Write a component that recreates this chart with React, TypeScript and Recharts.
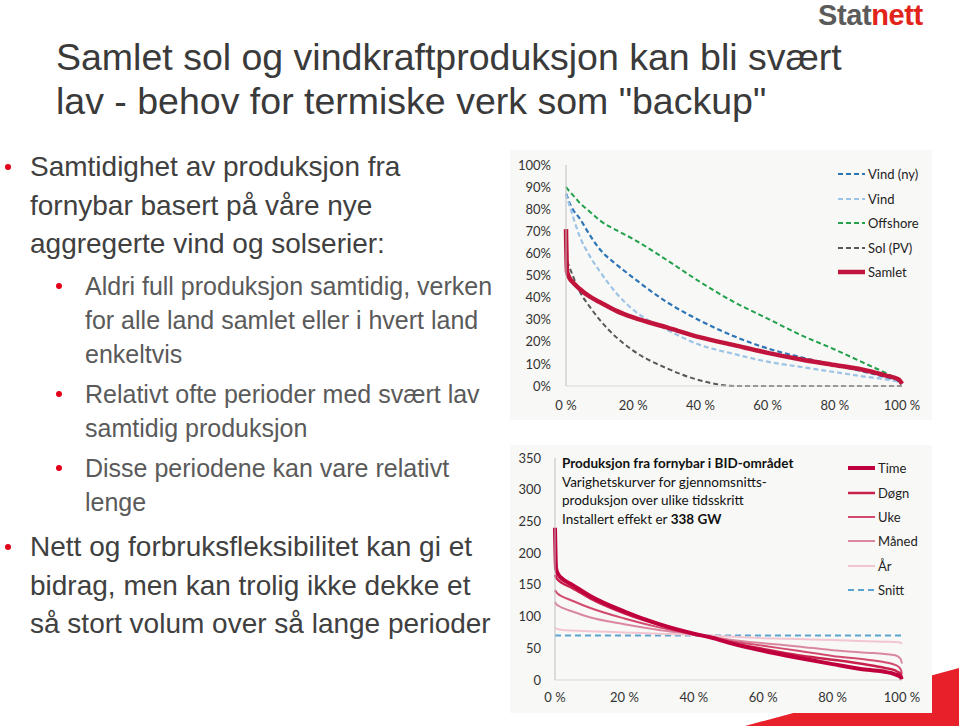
import React from 'react';
import { LineChart, Line, XAxis, YAxis } from 'recharts';

// Top chart: duration curves, share of installed capacity (%)
const TOP_X = [0, 0.3, 1, 2, 4, 7, 10, 15, 20, 30, 40, 50, 60, 70, 80, 90, 95, 99, 100];
const VIND_NY = [87, 86, 83, 80, 76, 68.5, 62, 55, 49, 38, 29.5, 22.5, 17, 13, 9.5, 6, 4, 2, 1];
const VIND = [87, 85, 82, 77, 68, 59, 52, 42, 34.5, 25.5, 18.5, 14.5, 11, 8.6, 6.3, 4, 3, 1.8, 1];
const OFFSHORE = [90, 89.5, 88, 86.5, 83, 79, 75, 70.5, 66.5, 57, 47, 38, 30.5, 23, 16.5, 9.5, 6, 2.5, 1];
const SOL = [60, 57, 54, 50, 43, 36, 30, 22, 16, 8, 2.5, 0, 0, 0, 0, 0, 0, 0, 0];
const SAMLET = [71, 52, 49, 47, 44, 40.5, 38, 34, 31, 26.5, 22, 18.5, 15, 12, 9.5, 6.8, 4.8, 3, 1];
const TOP_Y_TICKS = [0, 10, 20, 30, 40, 50, 60, 70, 80, 90, 100];

// Bottom chart: production in BID area (GW), averaged over time steps
const BOT_X = [0, 0.3, 1, 2, 5, 10, 20, 30, 40, 45, 50, 60, 70, 80, 90, 95, 98, 99.5, 100];
const TIME = [240, 176, 166, 160, 150, 133, 108, 88, 73, 67, 59, 46, 35, 25, 16, 13, 9, 5, 1];
const DOGN = [166, 162, 157, 153, 145, 129, 105, 87, 73, 67, 60, 49, 39, 32, 24, 19, 15, 10, 4];
const UKE = [142, 139, 135, 132, 125, 114, 97, 83, 72, 67, 62, 54, 46, 38, 32, 28, 24, 18, 10];
const MANED = [123, 120, 117, 114, 108, 99, 88, 79, 72, 68, 64, 58, 53, 47, 43, 41, 39, 34, 26];
const AR = [82, 81, 80, 79, 78, 77, 75, 73, 71, 70, 68.5, 66, 64.5, 63, 61, 60.5, 60, 59, 57];
const SNITT = 70;
const BOT_Y_TICKS = [0, 50, 100, 150, 200, 250, 300, 350];

const X_TICKS = [0, 20, 40, 60, 80, 100];

const topRows = TOP_X.map((x, i) => ({
  x,
  vindNy: VIND_NY[i],
  vind: VIND[i],
  offshore: OFFSHORE[i],
  sol: SOL[i],
  samlet: SAMLET[i],
}));

const botRows = BOT_X.map((x, i) => ({
  x,
  time: TIME[i],
  dogn: DOGN[i],
  uke: UKE[i],
  maned: MANED[i],
  ar: AR[i],
  snitt: SNITT,
}));

type Series = { key: string; name: string; color: string; width: number; dash?: string };

const TOP_SERIES: Series[] = [
  { key: 'vindNy', name: 'Vind (ny)', color: '#2e75b6', width: 2.2, dash: '5 3' },
  { key: 'vind', name: 'Vind', color: '#9dc3e6', width: 2.2, dash: '5 3' },
  { key: 'offshore', name: 'Offshore', color: '#22a04b', width: 2, dash: '5 3' },
  { key: 'sol', name: 'Sol (PV)', color: '#595959', width: 2, dash: '5 3' },
  { key: 'samlet', name: 'Samlet', color: '#c0143c', width: 4.5 },
];

const BOT_SERIES: Series[] = [
  { key: 'time', name: 'Time', color: '#c0003c', width: 4 },
  { key: 'dogn', name: 'Døgn', color: '#c8224c', width: 2.5 },
  { key: 'uke', name: 'Uke', color: '#d24a6e', width: 2 },
  { key: 'maned', name: 'Måned', color: '#da87a0', width: 2 },
  { key: 'ar', name: 'År', color: '#f2c6d1', width: 2 },
  { key: 'snitt', name: 'Snitt', color: '#5ba4d0', width: 2, dash: '6 4' },
];

const chartFont = 'Lato, "Open Sans", sans-serif';
const tickStyle = { fill: '#333', fontSize: 13, fontFamily: chartFont };

const LegendBox: React.FC<{ series: Series[]; left: number; top: number; gap: number }> = ({ series, left, top, gap }) => (
  <div style={{ position: 'absolute', left, top, fontFamily: chartFont, fontSize: 13, color: '#222' }}>
    {series.map((s) => (
      <div key={s.key} style={{ display: 'flex', alignItems: 'center', height: gap }}>
        <svg width={27} height={6} style={{ marginRight: 3 }}>
          <line x1={0} y1={3} x2={27} y2={3} stroke={s.color} strokeWidth={s.width} strokeDasharray={s.dash} />
        </svg>
        <span>{s.name}</span>
      </div>
    ))}
  </div>
);

const Bullet: React.FC<{ left: number; top: number }> = ({ left, top }) => (
  <div style={{ position: 'absolute', left, top, width: 6, height: 6, borderRadius: 3, background: '#e2001a' }} />
);

const App: React.FC = () => {
  const slideFont = '"Liberation Sans", Arial, sans-serif';
  const l1 = { position: 'absolute' as const, left: 30, fontFamily: slideFont, fontSize: 28, lineHeight: '38.5px', color: '#404040', whiteSpace: 'nowrap' as const };
  const l2 = { position: 'absolute' as const, left: 85, fontFamily: slideFont, fontSize: 25, lineHeight: '34px', color: '#5a5a5a', whiteSpace: 'nowrap' as const };

  return (
    <div style={{ position: 'absolute', left: 0, top: 0, width: 959, height: 726, overflow: 'hidden', background: '#fff' }}>
      {/* red corner shape */}
      <svg width={959} height={726} style={{ position: 'absolute', left: 0, top: 0 }}>
        <polygon points="745,726 959,668 959,726" fill="#e8202a" />
        <text x={818} y={25} fontFamily={slideFont} fontWeight="bold" fontSize={29} letterSpacing={-0.4}>
          <tspan fill="#5b5b5b">Stat</tspan>
          <tspan fill="#e2231a">nett</tspan>
        </text>
      </svg>

      {/* title */}
      <div style={{ position: 'absolute', left: 56, top: 35, fontFamily: slideFont, fontSize: 37.5, lineHeight: '44px', color: '#3a3a3a', whiteSpace: 'nowrap' }}>
        Samlet sol og vindkraftproduksjon kan bli svært
        <br />
        lav - behov for termiske verk som "backup"
      </div>

      {/* bullets */}
      <Bullet left={5} top={164} />
      <div style={{ ...l1, top: 148 }}>
        Samtidighet av produksjon fra
        <br />
        fornybar basert på våre nye
        <br />
        aggregerte vind og solserier:
      </div>
      <Bullet left={56} top={283} />
      <div style={{ ...l2, top: 269 }}>
        Aldri full produksjon samtidig, verken
        <br />
        for alle land samlet eller i hvert land
        <br />
        enkeltvis
      </div>
      <Bullet left={56} top={391} />
      <div style={{ ...l2, top: 377 }}>
        Relativt ofte perioder med svært lav
        <br />
        samtidig produksjon
      </div>
      <Bullet left={56} top={465} />
      <div style={{ ...l2, top: 451 }}>
        Disse periodene kan vare relativt
        <br />
        lenge
      </div>
      <Bullet left={5} top={544} />
      <div style={{ ...l1, top: 528 }}>
        Nett og forbruksfleksibilitet kan gi et
        <br />
        bidrag, men kan trolig ikke dekke et
        <br />
        så stort volum over så lange perioder
      </div>

      {/* top chart */}
      <div style={{ position: 'absolute', left: 510, top: 150, width: 422, height: 270, background: '#f8f8f6' }}>
        <LineChart width={422} height={270} data={topRows} margin={{ top: 15, right: 30, left: 6, bottom: 4 }}>
          <XAxis
            dataKey="x"
            type="number"
            domain={[0, 100]}
            ticks={X_TICKS}
            interval={0}
            tickFormatter={(v: number) => `${v} %`}
            tick={tickStyle}
            tickLine={false}
            tickSize={0}
            tickMargin={15}
            height={30}
            axisLine={{ stroke: '#d9d9d9' }}
          />
          <YAxis
            type="number"
            domain={[0, 100]}
            ticks={TOP_Y_TICKS}
            interval={0}
            tickFormatter={(v: number) => `${v}%`}
            tick={tickStyle}
            tickLine={false}
            tickSize={0}
            tickMargin={15}
            width={50}
            axisLine={{ stroke: '#bfbfbf' }}
          />
          {TOP_SERIES.map((s) => (
            <Line
              key={s.key}
              dataKey={s.key}
              name={s.name}
              type="monotone"
              stroke={s.color}
              strokeWidth={s.width}
              strokeDasharray={s.dash}
              dot={false}
              activeDot={false}
              isAnimationActive={false}
            />
          ))}
        </LineChart>
        <LegendBox series={TOP_SERIES} left={328} top={12} gap={24.5} />
      </div>

      {/* bottom chart */}
      <div style={{ position: 'absolute', left: 510, top: 445, width: 422, height: 268, background: '#f8f8f6' }}>
        <LineChart width={422} height={268} data={botRows} margin={{ top: 13, right: 30, left: 5, bottom: 3 }}>
          <XAxis
            dataKey="x"
            type="number"
            domain={[0, 100]}
            ticks={X_TICKS}
            interval={0}
            tickFormatter={(v: number) => `${v} %`}
            tick={tickStyle}
            tickLine={false}
            tickSize={0}
            tickMargin={13}
            height={30}
            axisLine={{ stroke: '#d9d9d9' }}
          />
          <YAxis
            type="number"
            domain={[0, 350]}
            ticks={BOT_Y_TICKS}
            interval={0}
            tick={tickStyle}
            tickLine={false}
            tickSize={0}
            tickMargin={14}
            width={40}
            axisLine={{ stroke: '#bfbfbf' }}
          />
          {BOT_SERIES.slice()
            .reverse()
            .map((s) => (
              <Line
                key={s.key}
                dataKey={s.key}
                name={s.name}
                type="monotone"
                stroke={s.color}
                strokeWidth={s.width}
                strokeDasharray={s.dash}
                dot={false}
                activeDot={false}
                isAnimationActive={false}
              />
            ))}
        </LineChart>
        <div style={{ position: 'absolute', left: 52, top: 9, fontFamily: chartFont, fontSize: 13.5, lineHeight: '18.5px', color: '#111', whiteSpace: 'nowrap' }}>
          <b>Produksjon fra fornybar i BID-området</b>
          <br />
          Varighetskurver for gjennomsnitts-
          <br />
          produksjon over ulike tidsskritt
          <br />
          Installert effekt er <b>338 GW</b>
        </div>
        <LegendBox series={BOT_SERIES} left={338} top={11} gap={24.4} />
      </div>
    </div>
  );
};

export default App;
